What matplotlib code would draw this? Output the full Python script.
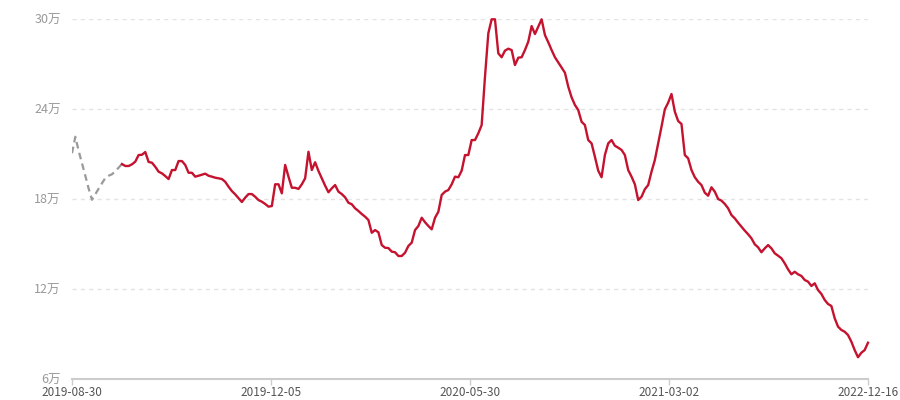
import numpy as np
import matplotlib
matplotlib.use("Agg")
import matplotlib.pyplot as plt

plt.rcParams['font.family'] = ['Noto Sans CJK SC', 'DejaVu Sans']

# %% Data (values in 万)

# dashed grey part at the start
grey_values = [21.05, 22.15, 21.21, 20.38, 19.55, 18.69, 17.95, 18.32, 18.69, 19.05,
               19.40, 19.55, 19.65, 19.85, 20.09]

red_values = [
    20.33, 20.20, 20.20, 20.31, 20.49, 20.93, 20.95, 21.13, 20.47, 20.42,
    20.15, 19.82, 19.71, 19.53, 19.33, 19.93, 19.93, 20.53, 20.53, 20.27,
    19.75, 19.75, 19.49, 19.55, 19.62, 19.69, 19.55, 19.49, 19.42, 19.38,
    19.33, 19.15, 18.82, 18.53, 18.31, 18.05, 17.80, 18.09, 18.33, 18.33,
    18.15, 17.93, 17.82, 17.67, 17.49, 17.53, 18.98, 18.98, 18.38, 20.27,
    19.49, 18.75, 18.75, 18.67, 18.98, 19.38, 21.15, 19.93, 20.45, 19.87,
    19.38, 18.89, 18.45, 18.71, 18.93, 18.49, 18.33, 18.11, 17.75, 17.65,
    17.38, 17.20, 17.00, 16.82, 16.60, 15.75, 15.93, 15.78, 14.93, 14.75,
    14.73, 14.49, 14.45, 14.20, 14.20, 14.42, 14.87, 15.09, 15.93, 16.20,
    16.75, 16.45, 16.20, 15.98, 16.75, 17.15, 18.27, 18.49, 18.60, 18.98,
    19.49, 19.45, 19.89, 20.93, 20.93, 21.93, 21.93, 22.38, 22.93, 26.15,
    29.05, 29.98, 29.98, 27.71, 27.45, 27.89, 28.02, 27.93, 26.93, 27.42,
    27.45, 27.93, 28.49, 29.53, 29.00, 29.49, 29.98, 28.93, 28.45, 27.93,
    27.45, 27.11, 26.78, 26.42, 25.49, 24.78, 24.27, 23.93, 23.15, 22.93,
    21.93, 21.71, 20.82, 19.89, 19.45, 20.93, 21.71, 21.93, 21.55, 21.42,
    21.27, 20.93, 19.93, 19.49, 18.98, 17.93, 18.15, 18.65, 18.93, 19.82,
    20.60, 21.71, 22.82, 23.98, 24.42, 25.00, 23.82, 23.20, 23.00, 20.93,
    20.71, 19.93, 19.45, 19.15, 18.93, 18.42, 18.22, 18.78, 18.49, 18.00,
    17.89, 17.67, 17.38, 16.93, 16.71, 16.42, 16.15, 15.89, 15.65, 15.38,
    14.98, 14.78, 14.45, 14.71, 14.93, 14.71, 14.38, 14.22, 14.05, 13.71,
    13.31, 12.98, 13.15, 12.98, 12.87, 12.60, 12.49, 12.20, 12.38, 11.93,
    11.67, 11.27, 11.00, 10.87, 10.05, 9.49, 9.27, 9.15, 8.93, 8.49,
    7.93, 7.45, 7.75, 7.93, 8.42,
]

tick_dates = ["2019-08-30", "2019-12-05", "2020-05-30", "2021-03-02", "2022-12-16"]
y_ticks = [6, 12, 18, 24, 30]

# %% Plot

values = grey_values + red_values
n = len(values)
x = np.arange(n)
k = len(grey_values)

fig = plt.figure(figsize=(9, 4), dpi=100)
ax = fig.add_axes([72/900, 1-379/400, 796/900, 360/400])

ax.plot(x[:k+1], values[:k+1], color="#9a9a9a", lw=1.6, ls=(0, (3, 2)))
ax.plot(x[k:], values[k:], color="#c4122f", lw=1.7, clip_on=False)

ax.set_xlim(0, n-1)
ax.set_ylim(6, 30)

ax.set_yticks(y_ticks)
ax.set_yticklabels([f"{v}万" for v in y_ticks])
for v in y_ticks[1:]:
    ax.axhline(v, color="#e3e3e3", lw=1, ls=(0, (3, 3)), zorder=0)

ax.set_xticks(np.linspace(0, n-1, len(tick_dates)))
ax.set_xticklabels(tick_dates)

for s in ["top", "right", "left"]:
    ax.spines[s].set_visible(False)
ax.spines["bottom"].set_color("#cccccc")
ax.spines["bottom"].set_linewidth(1.5)

ax.tick_params(axis="y", length=0, pad=8, labelsize=9, labelcolor="#999999")
ax.tick_params(axis="x", length=4, width=1, color="#cccccc", pad=1,
               labelsize=8.5, labelcolor="#555555")

fig.savefig("out.png", dpi=100)
